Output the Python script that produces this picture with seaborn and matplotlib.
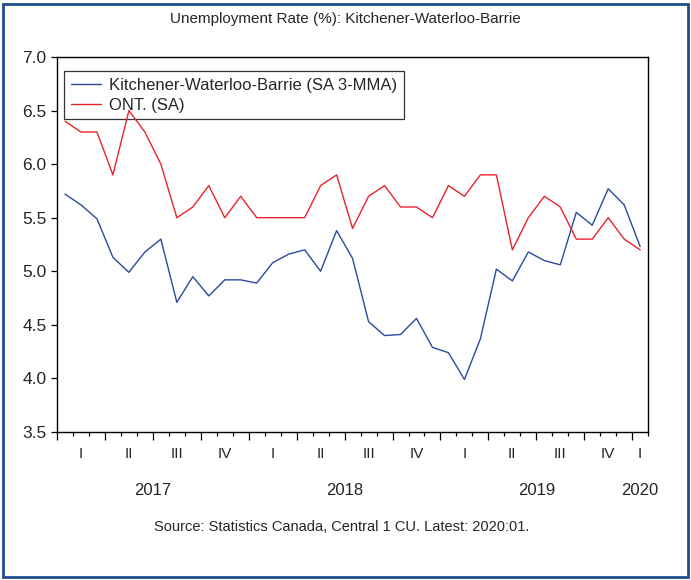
import numpy as np
import pandas as pd
import matplotlib
matplotlib.use("Agg")
import matplotlib.pyplot as plt
import matplotlib.transforms as mtransforms
from matplotlib.patches import Rectangle
import seaborn as sb

# monthly data, 2017:01 .. 2020:01
months = pd.period_range("2017-01", "2020-01", freq="M").astype(str).tolist()
kwb = [5.72, 5.62, 5.49, 5.13, 4.99, 5.18, 5.30, 4.71, 4.95, 4.77, 4.92, 4.92,
       4.89, 5.08, 5.16, 5.20, 5.00, 5.38, 5.12, 4.53, 4.40, 4.41, 4.56, 4.29,
       4.24, 3.99, 4.37, 5.02, 4.91, 5.18, 5.10, 5.06, 5.55, 5.43, 5.77, 5.62,
       5.23]
ont = [6.4, 6.3, 6.3, 5.9, 6.5, 6.3, 6.0, 5.5, 5.6, 5.8, 5.5, 5.7,
       5.5, 5.5, 5.5, 5.5, 5.8, 5.9, 5.4, 5.7, 5.8, 5.6, 5.6, 5.5,
       5.8, 5.7, 5.9, 5.9, 5.2, 5.5, 5.7, 5.6, 5.3, 5.3, 5.5, 5.3,
       5.2]
series_names = ["Kitchener-Waterloo-Barrie (SA 3-MMA)", "ONT. (SA)"]
quarter_labels = ["I", "II", "III", "IV"] * 3 + ["I"]
year_labels = ["2017", "2018", "2019", "2020"]

df = pd.DataFrame({"idx": np.arange(len(months)), "month": months,
                   series_names[0]: kwb, series_names[1]: ont})
long = df.melt(id_vars=["idx", "month"], var_name="series", value_name="rate")

sb.set_style("white")
plt.rcParams["font.family"] = ["Liberation Sans", "DejaVu Sans"]

fig = plt.figure(figsize=(6.91, 5.80), dpi=100)
ax = fig.add_axes([0.0825, 0.2552, 0.8555, 0.6465])

sb.lineplot(data=long, x="idx", y="rate", hue="series", hue_order=series_names,
            palette=["#2B4A9E", "#E8252B"], linewidth=1.0, ax=ax, zorder=3)

ax.set_xlim(-0.5, len(months) - 0.5)
ax.set_ylim(3.5, 7.0)
ax.set_yticks(np.arange(3.5, 7.01, 0.5))
ax.set_yticklabels([f"{v:.1f}" for v in np.arange(3.5, 7.01, 0.5)], fontsize=12.5)
ax.set_xticks(np.arange(-0.5, len(months) - 0.4, 3))
ax.set_xticks(np.arange(-0.5, len(months) - 0.4, 1), minor=True)
ax.set_xticklabels([])
ax.tick_params(axis="x", which="major", direction="out", length=6, width=0.9,
               bottom=True, color="black")
ax.tick_params(axis="x", which="minor", direction="out", length=3, width=0.9,
               bottom=True, color="black")
ax.tick_params(axis="y", direction="out", length=4.5, width=0.9, left=True,
               color="black", pad=3)
ax.set_xlabel("")
ax.set_ylabel("")
for s in ax.spines.values():
    s.set_color("black")
    s.set_linewidth(1.0)

# quarter and year labels under the axis
trans = mtransforms.blended_transform_factory(ax.transData, ax.transAxes)
for i, q in enumerate(quarter_labels):
    xc = 3 * i + 1 if i < 12 else 36
    ax.text(xc, -0.058, q, transform=trans, ha="center", va="center", fontsize=11)
for i, y in enumerate(year_labels):
    xc = 12 * i + 5.5 if i < 3 else 36
    ax.text(xc, -0.157, y, transform=trans, ha="center", va="center", fontsize=12)

leg = ax.legend(loc="upper left", bbox_to_anchor=(0.0118, 0.963), fontsize=12,
                frameon=True, fancybox=False, edgecolor="black",
                handlelength=1.8, handletextpad=0.5, borderpad=0.4,
                labelspacing=0.3, borderaxespad=0.0)
leg.get_frame().set_linewidth(0.9)
leg.set_zorder(2)

fig.text(0.5, 0.968, "Unemployment Rate (%): Kitchener-Waterloo-Barrie",
         ha="center", va="center", fontsize=11)
fig.text(0.495, 0.092, "Source: Statistics Canada, Central 1 CU. Latest: 2020:01.",
         ha="center", va="center", fontsize=10.5)

# outer frame
fig.patches.append(Rectangle((0.005, 0.006), 0.99, 0.987, transform=fig.transFigure,
                             fill=False, edgecolor="#1F4E8C", linewidth=2.0))

fig.savefig("out.png", dpi=100)
